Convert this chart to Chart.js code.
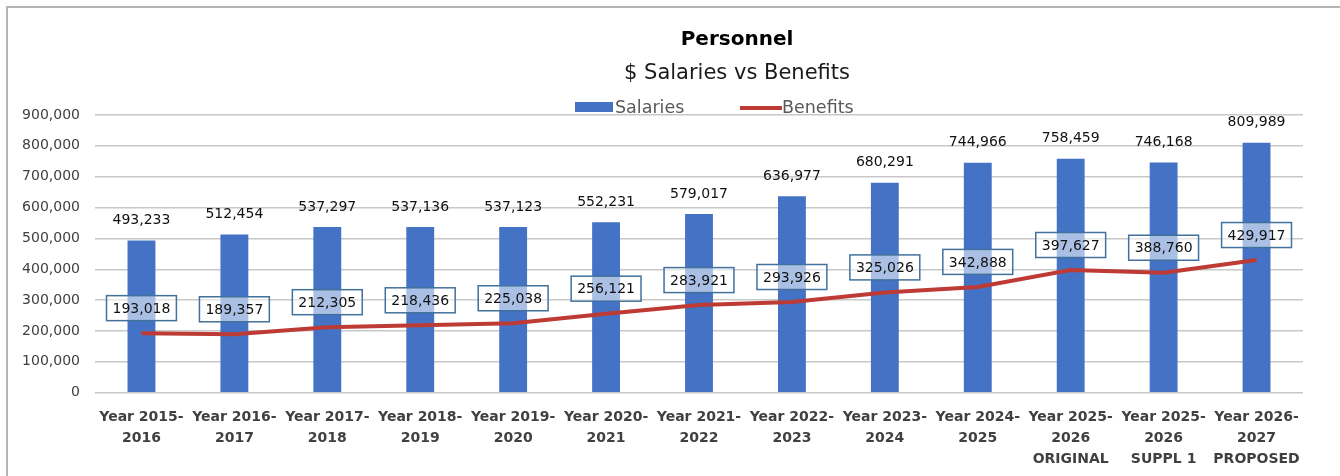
<!DOCTYPE html>
<html>
<head>
<meta charset="utf-8">
<title>Personnel – $ Salaries vs Benefits</title>
<script src="https://cdn.jsdelivr.net/npm/chart.js@4.4.1/dist/chart.umd.min.js"></script>
<style>
  html, body { margin: 0; padding: 0; background: #ffffff; }
  #wrap { width: 1340px; height: 476px; position: relative; }
</style>
</head>
<body>
<div id="wrap"><canvas id="chart" width="1340" height="476"></canvas></div>
<script>
// Fiscal-year categories (multi-line labels)
const categories = [
  ["Year 2015-", "2016"],
  ["Year 2016-", "2017"],
  ["Year 2017-", "2018"],
  ["Year 2018-", "2019"],
  ["Year 2019-", "2020"],
  ["Year 2020-", "2021"],
  ["Year 2021-", "2022"],
  ["Year 2022-", "2023"],
  ["Year 2023-", "2024"],
  ["Year 2024-", "2025"],
  ["Year 2025-", "2026", "ORIGINAL"],
  ["Year 2025-", "2026", "SUPPL 1"],
  ["Year 2026-", "2027", "PROPOSED"]
];

// Dollar amounts per year
const salaries = [493233, 512454, 537297, 537136, 537123, 552231, 579017, 636977, 680291, 744966, 758459, 746168, 809989];
const benefits = [193018, 189357, 212305, 218436, 225038, 256121, 283921, 293926, 325026, 342888, 397627, 388760, 429917];

// Y axis tick values
const yTicks = [0, 100000, 200000, 300000, 400000, 500000, 600000, 700000, 800000, 900000];

const titleText = "Personnel";
const subtitleText = "$ Salaries vs Benefits";
const seriesNames = ["Salaries", "Benefits"];

const FONT = "'DejaVu Sans', sans-serif";
const BAR_COLOR = "#4472C4";
const LINE_COLOR = "#BE3A34";
const fmt = v => v.toLocaleString("en-US");

// Frame, titles and legend drawn around the plot
const decorations = {
  id: "decorations",
  beforeDraw(chart) {
    const ctx = chart.ctx;
    ctx.save();
    ctx.fillStyle = "#ffffff";
    ctx.fillRect(0, 0, chart.width, chart.height);
    ctx.strokeStyle = "#B4B4B4";
    ctx.lineWidth = 2;
    ctx.beginPath();
    ctx.moveTo(7, chart.height);
    ctx.lineTo(7, 7);
    ctx.lineTo(chart.width, 7);
    ctx.stroke();
    ctx.restore();
  },
  afterDraw(chart) {
    const ctx = chart.ctx;
    ctx.save();
    ctx.textAlign = "center";
    ctx.textBaseline = "middle";
    ctx.fillStyle = "#000000";
    ctx.font = "bold 20px " + FONT;
    ctx.fillText(titleText, 737, 40);
    ctx.fillStyle = "#1a1a1a";
    ctx.font = "21px " + FONT;
    ctx.fillText(subtitleText, 737, 74);

    // legend
    ctx.font = "17.5px " + FONT;
    ctx.textAlign = "left";
    ctx.fillStyle = BAR_COLOR;
    ctx.fillRect(575, 102, 38, 10);
    ctx.fillStyle = "#595959";
    ctx.fillText(seriesNames[0], 615, 108);
    ctx.strokeStyle = LINE_COLOR;
    ctx.lineWidth = 4;
    ctx.beginPath();
    ctx.moveTo(740, 108);
    ctx.lineTo(782, 108);
    ctx.stroke();
    ctx.fillText(seriesNames[1], 782, 108);
    ctx.restore();
  }
};

// Value labels: plain above bars, boxed above the benefits line
const valueLabels = {
  id: "valueLabels",
  afterDatasetsDraw(chart) {
    const ctx = chart.ctx;
    ctx.save();
    ctx.font = "14px " + FONT;
    ctx.textAlign = "center";
    ctx.textBaseline = "middle";

    const barMeta = chart.getDatasetMeta(0);
    barMeta.data.forEach((el, i) => {
      ctx.fillStyle = "#111111";
      ctx.fillText(fmt(salaries[i]), el.x, el.y - 20);
    });

    const lineMeta = chart.getDatasetMeta(1);
    lineMeta.data.forEach((el, i) => {
      const txt = fmt(benefits[i]);
      const w = ctx.measureText(txt).width + 12;
      const h = 25;
      const cx = el.x, cy = el.y - 25;
      ctx.fillStyle = "rgba(255,255,255,0.55)";
      ctx.fillRect(cx - w / 2, cy - h / 2, w, h);
      ctx.strokeStyle = "#41719C";
      ctx.lineWidth = 1.5;
      ctx.strokeRect(cx - w / 2, cy - h / 2, w, h);
      ctx.fillStyle = "#111111";
      ctx.fillText(txt, cx, cy + 1);
    });
    ctx.restore();
  }
};

new Chart(document.getElementById("chart"), {
  data: {
    labels: categories,
    datasets: [
      {
        type: "bar",
        label: seriesNames[0],
        data: salaries,
        backgroundColor: BAR_COLOR,
        borderWidth: 0,
        categoryPercentage: 1,
        barPercentage: 0.3,
        order: 2
      },
      {
        type: "line",
        label: seriesNames[1],
        data: benefits,
        borderColor: LINE_COLOR,
        borderWidth: 4,
        pointRadius: 0,
        tension: 0,
        fill: false,
        order: 1
      }
    ]
  },
  options: {
    responsive: false,
    animation: false,
    layout: { padding: { left: 0, right: 37, top: 115, bottom: 0 } },
    plugins: {
      legend: { display: false },
      title: { display: false },
      tooltip: { enabled: false }
    },
    scales: {
      x: {
        grid: { display: false },
        border: { display: false },
        ticks: {
          autoSkip: false,
          maxRotation: 0,
          minRotation: 0,
          padding: 6,
          color: "#404040",
          font: { family: FONT, size: 14, weight: "bold", lineHeight: 1.5 }
        },
        afterFit(scale) { scale.height = 83.3; }
      },
      y: {
        min: 0,
        max: 900000,
        afterBuildTicks(scale) { scale.ticks = yTicks.map(v => ({ value: v })); },
        grid: { color: "#C8C8C8", lineWidth: 1.5, drawTicks: false },
        border: { display: false },
        ticks: {
          padding: 15,
          color: "#404040",
          font: { family: FONT, size: 14 },
          callback: v => fmt(v)
        },
        afterFit(scale) { scale.width = 95; }
      }
    }
  },
  plugins: [decorations, valueLabels]
});
</script>
</body>
</html>
